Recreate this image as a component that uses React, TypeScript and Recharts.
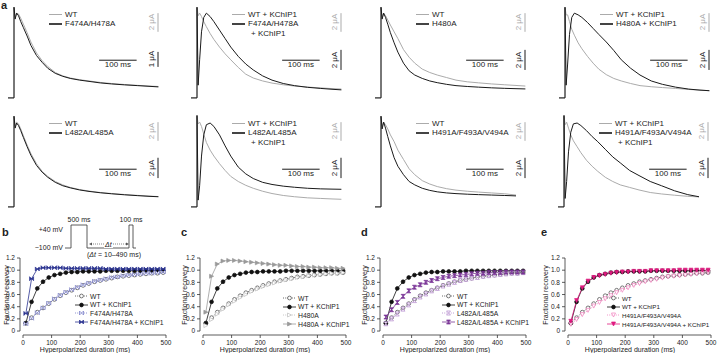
import React from "react";
import { LineChart, Line, XAxis, YAxis, ReferenceLine } from "recharts";

const FONT = '"Liberation Sans", Arial, Helvetica, sans-serif';
const GRAY = "#ababab";
const BLACK = "#1a1a1a";
const INK = "#222";

// ---------- a: current traces, normalised to peak ----------
const traceTime = [-16, 0, 0, 3, 7, 12, 18, 25, 35, 45, 60, 75, 90, 110, 130, 150, 175, 200, 230, 260, 295, 330, 360, 385];

const wtA1 = [0, 0, 1.07, 0.95, 1.0, 0.99, 0.94, 0.87, 0.77, 0.66, 0.53, 0.44, 0.37, 0.3, 0.26, 0.235, 0.215, 0.2, 0.183, 0.17, 0.158, 0.148, 0.14, 0.135];
const f474A = [0, 0, 1.07, 0.93, 1.0, 0.97, 0.9, 0.83, 0.73, 0.62, 0.5, 0.42, 0.35, 0.29, 0.255, 0.23, 0.21, 0.195, 0.177, 0.165, 0.154, 0.145, 0.137, 0.13];
const wtKA2 = [0, 0, 1.07, 0.97, 1.0, 0.96, 0.9, 0.84, 0.76, 0.69, 0.6, 0.52, 0.45, 0.36, 0.28, 0.235, 0.2, 0.175, 0.155, 0.14, 0.128, 0.118, 0.11, 0.105];
const f474KA = [0, 0, 1.07, 0.15, 0.45, 0.78, 0.95, 1.0, 0.96, 0.9, 0.8, 0.7, 0.6, 0.49, 0.4, 0.33, 0.26, 0.21, 0.17, 0.145, 0.125, 0.112, 0.102, 0.095];
const wtA3 = [0, 0, 1.07, 0.95, 1.0, 0.97, 0.92, 0.86, 0.78, 0.7, 0.57, 0.48, 0.41, 0.34, 0.3, 0.27, 0.24, 0.21, 0.19, 0.178, 0.165, 0.155, 0.147, 0.14];
const h480A = [0, 0, 1.07, 0.93, 1.0, 0.95, 0.87, 0.77, 0.65, 0.54, 0.41, 0.32, 0.27, 0.23, 0.2, 0.18, 0.16, 0.145, 0.135, 0.127, 0.119, 0.113, 0.109, 0.106];
const wtKA4 = [0, 0, 1.07, 0.98, 0.98, 0.9, 0.81, 0.74, 0.65, 0.58, 0.49, 0.41, 0.34, 0.275, 0.23, 0.2, 0.17, 0.145, 0.132, 0.122, 0.112, 0.1, 0.092, 0.085];
const h480KA = [0, 0, 1.07, 0.15, 0.4, 0.75, 0.95, 1.0, 0.98, 0.95, 0.89, 0.82, 0.75, 0.66, 0.56, 0.45, 0.35, 0.27, 0.2, 0.16, 0.127, 0.104, 0.092, 0.085];
const wtA5 = [0, 0, 1.07, 0.95, 1.0, 0.98, 0.92, 0.84, 0.73, 0.63, 0.51, 0.42, 0.36, 0.3, 0.26, 0.23, 0.205, 0.187, 0.17, 0.158, 0.146, 0.136, 0.128, 0.122];
const l482A = [0, 0, 1.07, 0.93, 0.99, 0.96, 0.9, 0.82, 0.71, 0.61, 0.49, 0.41, 0.35, 0.29, 0.25, 0.225, 0.2, 0.183, 0.167, 0.155, 0.143, 0.133, 0.125, 0.12];
const wtKA6 = [0, 0, 1.07, 0.98, 1.0, 0.95, 0.86, 0.76, 0.67, 0.6, 0.51, 0.43, 0.36, 0.3, 0.255, 0.22, 0.185, 0.158, 0.135, 0.12, 0.107, 0.1, 0.094, 0.09];
const l482KA = [0, 0, 1.08, 0.08, 0.25, 0.6, 0.85, 0.97, 0.99, 0.95, 0.85, 0.72, 0.6, 0.47, 0.39, 0.335, 0.29, 0.265, 0.245, 0.232, 0.22, 0.213, 0.21, 0.208];
const wtA7 = [0, 0, 1.07, 0.95, 1.0, 0.97, 0.92, 0.85, 0.77, 0.67, 0.56, 0.45, 0.38, 0.31, 0.27, 0.24, 0.215, 0.198, 0.185, 0.175, 0.165, 0.155, 0.14, null];
const h491A = [0, 0, 1.07, 0.92, 1.0, 0.93, 0.83, 0.72, 0.58, 0.48, 0.38, 0.3, 0.26, 0.22, 0.195, 0.178, 0.165, 0.157, 0.15, 0.145, 0.14, 0.135, 0.13, null];
const wtKA8 = [0, 0, 1.07, 0.97, 1.0, 0.93, 0.85, 0.78, 0.71, 0.64, 0.55, 0.48, 0.42, 0.35, 0.3, 0.26, 0.23, 0.2, 0.17, 0.153, 0.138, 0.125, 0.118, null];
const h491KA = [0, 0, 1.08, 0.1, 0.3, 0.65, 0.88, 0.98, 0.99, 0.96, 0.9, 0.83, 0.77, 0.68, 0.59, 0.52, 0.43, 0.37, 0.3, 0.25, 0.19, 0.145, 0.12, null];

// ---------- b-e: fractional recovery ----------
const recX = [10, 30, 50, 70, 90, 110, 130, 150, 170, 190, 210, 230, 250, 270, 290, 310, 330, 350, 370, 390, 410, 430, 450, 470, 490];
const wtRec = [0.13, 0.22, 0.31, 0.38, 0.45, 0.52, 0.58, 0.63, 0.67, 0.71, 0.75, 0.78, 0.81, 0.83, 0.85, 0.87, 0.89, 0.9, 0.91, 0.92, 0.93, 0.94, 0.95, 0.95, 0.96];
const wtKRec = [0.13, 0.48, 0.7, 0.81, 0.88, 0.92, 0.94, 0.96, 0.97, 0.97, 0.98, 0.98, 0.98, 0.98, 0.99, 0.99, 0.99, 0.99, 0.99, 0.99, 0.99, 0.99, 0.99, 0.99, 0.99];
const f474Rec = [0.12, 0.21, 0.3, 0.38, 0.46, 0.53, 0.59, 0.64, 0.68, 0.72, 0.76, 0.79, 0.82, 0.84, 0.86, 0.88, 0.89, 0.91, 0.92, 0.93, 0.94, 0.95, 0.95, 0.96, 0.97];
const f474KRec = [0.29, 0.86, 1.02, 1.04, 1.04, 1.04, 1.04, 1.03, 1.03, 1.03, 1.03, 1.03, 1.03, 1.03, 1.02, 1.02, 1.02, 1.02, 1.02, 1.02, 1.02, 1.02, 1.02, 1.02, 1.02];
const h480Rec = [0.09, 0.19, 0.28, 0.36, 0.43, 0.49, 0.55, 0.6, 0.65, 0.69, 0.73, 0.76, 0.79, 0.82, 0.84, 0.86, 0.88, 0.89, 0.91, 0.92, 0.93, 0.94, 0.95, 0.95, 0.96];
const h480KRec = [0.31, 0.9, 1.1, 1.15, 1.16, 1.16, 1.15, 1.14, 1.13, 1.12, 1.11, 1.1, 1.09, 1.08, 1.08, 1.07, 1.06, 1.06, 1.05, 1.05, 1.04, 1.04, 1.04, 1.03, 1.03];
const l482Rec = [0.12, 0.2, 0.28, 0.36, 0.43, 0.5, 0.56, 0.61, 0.66, 0.7, 0.74, 0.77, 0.8, 0.83, 0.85, 0.87, 0.88, 0.9, 0.91, 0.92, 0.93, 0.94, 0.95, 0.95, 0.96];
const l482KRec = [0.23, 0.35, 0.47, 0.57, 0.66, 0.72, 0.76, 0.8, 0.83, 0.86, 0.88, 0.9, 0.91, 0.92, 0.93, 0.94, 0.95, 0.95, 0.96, 0.96, 0.96, 0.97, 0.97, 0.97, 0.97];
const h491Rec = [0.11, 0.19, 0.27, 0.34, 0.41, 0.47, 0.53, 0.58, 0.63, 0.67, 0.71, 0.75, 0.78, 0.81, 0.83, 0.85, 0.87, 0.89, 0.9, 0.91, 0.92, 0.93, 0.94, 0.95, 0.96];
const h491KRec = [0.16, 0.5, 0.71, 0.82, 0.88, 0.91, 0.93, 0.95, 0.96, 0.97, 0.97, 0.98, 0.98, 0.98, 0.99, 0.99, 0.99, 0.99, 0.99, 1.0, 1.0, 1.0, 1.0, 1.0, 1.0];

const recYTicks = [0, 0.2, 0.4, 0.6, 0.8, 1.0, 1.2];
const recXTicks = [0, 100, 200, 300, 400, 500];

// pulse protocol (schematic units)
const protoX = [0, 6, 6, 22, 22, 64, 64, 68, 68, 71];
const protoMv = [-100, -100, 40, 40, -100, -100, 40, 40, -100, -100];

// ---------- trace panel ----------
const TW = 180;
const TH = 100;
const T_MIN = -16;
const T_MAX = 464;
const V_MIN = -0.06;
const V_MAX = 1.12;
const tx = (t: number) => ((t - T_MIN) / (T_MAX - T_MIN)) * TW;
const vy = (v: number) => ((V_MAX - v) / (V_MAX - V_MIN)) * TH;
const BAR_T = 384;

function RotText({ x, y, color, children }: any) {
  return (
    <div
      style={{
        position: "absolute",
        left: x,
        top: y,
        transform: "translate(-50%, -50%) rotate(-90deg)",
        fontSize: 8,
        color,
        whiteSpace: "nowrap",
        lineHeight: 1,
      }}
    >
      {children}
    </div>
  );
}

function TracePanel({ left, top, gray, black, grayLabel, blackLabel, blackScale, blackBar }: any) {
  const data = traceTime.map((t, i) => ({ t, g: gray[i], k: black[i] }));
  return (
    <div style={{ position: "absolute", left, top, width: TW, height: TH }}>
      <LineChart width={TW} height={TH} data={data} margin={{ top: 0, right: 0, bottom: 0, left: 0 }}>
        <XAxis dataKey="t" type="number" domain={[T_MIN, T_MAX]} hide />
        <YAxis type="number" domain={[V_MIN, V_MAX]} hide />
        <Line dataKey="g" type="linear" stroke={GRAY} strokeWidth={1} dot={false} isAnimationActive={false} />
        <Line dataKey="k" type="linear" stroke={BLACK} strokeWidth={1} dot={false} isAnimationActive={false} />
        <ReferenceLine ifOverflow="visible" segment={[{ x: BAR_T, y: 0.78 }, { x: BAR_T, y: 1.0 }]} stroke={GRAY} strokeWidth={1} />
        <ReferenceLine ifOverflow="visible" segment={[{ x: BAR_T, y: blackBar[0] }, { x: BAR_T, y: blackBar[1] }]} stroke={BLACK} strokeWidth={1} />
        <ReferenceLine ifOverflow="visible" segment={[{ x: 227, y: 0.445 }, { x: 327, y: 0.445 }]} stroke={BLACK} strokeWidth={1} />
      </LineChart>
      <RotText x={tx(BAR_T) - 6} y={vy(0.89)} color={GRAY}>2 μA</RotText>
      <RotText x={tx(BAR_T) - 6} y={(vy(blackBar[0]) + vy(blackBar[1])) / 2} color={INK}>{blackScale}</RotText>
      <div style={{ position: "absolute", left: tx(277) - 20, width: 40, textAlign: "center", top: vy(0.445) + 1, fontSize: 8, lineHeight: 1.1 }}>
        100 ms
      </div>
      <div style={{ position: "absolute", left: 41, top: 11, width: 13, height: 1, background: GRAY, marginTop: -0.5 }} />
      <div style={{ position: "absolute", left: 41, top: 21, width: 13, height: 2, background: "#444", marginTop: -1 }} />
      <div style={{ position: "absolute", left: 57, top: 6.5, fontSize: 8, lineHeight: "9.5px", whiteSpace: "nowrap" }}>
        <div>{grayLabel}</div>
        {blackLabel.map((s: string, i: number) => (
          <div key={i} style={{ paddingLeft: i > 0 ? 3 : 0 }}>{s}</div>
        ))}
      </div>
    </div>
  );
}

// ---------- recovery panel ----------
function Marker({ cx, cy, shape, color, open, r = 2.0 }: any) {
  if (cx == null || cy == null) return null;
  const fill = open ? "#fff" : color;
  const sw = 0.7;
  if (shape === "circle") return <circle cx={cx} cy={cy} r={r - 0.1} fill={fill} stroke={color} strokeWidth={sw} />;
  let d = "";
  if (shape === "bowtie") d = `M${cx - r} ${cy - r}L${cx + r} ${cy + r}L${cx + r} ${cy - r}L${cx - r} ${cy + r}Z`;
  if (shape === "hourglass") d = `M${cx - r} ${cy - r}L${cx + r} ${cy - r}L${cx - r} ${cy + r}L${cx + r} ${cy + r}Z`;
  if (shape === "triR") d = `M${cx - r} ${cy - r}L${cx + r} ${cy}L${cx - r} ${cy + r}Z`;
  if (shape === "triD") d = `M${cx - r} ${cy - r}L${cx + r} ${cy - r}L${cx} ${cy + r}Z`;
  return <path d={d} fill={fill} stroke={color} strokeWidth={sw} strokeLinejoin="round" />;
}

const REC_W = 175;
const REC_H = 98;
const X_MIN = -10.5;
const Y_MIN = -0.065;

function RecoveryPanel({ left, series, legendX, legendY, titleX, legendFont = 6.8 }: any) {
  const data = recX.map((x, i) => {
    const row: any = { x };
    series.forEach((s: any, j: number) => (row["s" + j] = s.values[i]));
    return row;
  });
  const x0 = left + 23;
  return (
    <>
      <div style={{ position: "absolute", left, top: 253 }}>
        <LineChart width={REC_W} height={REC_H} data={data} margin={{ top: 5, right: 9, bottom: 0, left: 0 }}>
          <XAxis
            dataKey="x"
            type="number"
            domain={[X_MIN, 500]}
            ticks={recXTicks}
            axisLine={false}
            tickSize={3}
            tickLine={{ stroke: "#333", strokeWidth: 0.8 }}
            tick={{ fontSize: 6.5, fill: INK, fontFamily: FONT }}
            height={16}
            interval={0}
          />
          <YAxis
            type="number"
            domain={[Y_MIN, 1.2]}
            ticks={recYTicks}
            width={20}
            axisLine={false}
            tickSize={3}
            tickLine={{ stroke: "#333", strokeWidth: 0.8 }}
            tick={{ fontSize: 6.5, fill: INK, fontFamily: FONT }}
            tickFormatter={(v: number) => (v === 0 ? "0" : v.toFixed(1))}
            interval={0}
          />
          <ReferenceLine ifOverflow="visible" segment={[{ x: X_MIN, y: 0 }, { x: X_MIN, y: 1.2 }]} stroke="#333" strokeWidth={0.8} />
          <ReferenceLine ifOverflow="visible" segment={[{ x: 0, y: Y_MIN }, { x: 500, y: Y_MIN }]} stroke="#333" strokeWidth={0.8} />
          {series.map((s: any, j: number) => (
            <Line
              key={j}
              dataKey={"s" + j}
              type="linear"
              stroke={s.color}
              strokeWidth={0.8}
              strokeDasharray={s.open ? "1 1.2" : undefined}
              isAnimationActive={false}
              dot={(p: any) => <Marker key={p.index} cx={p.cx} cy={p.cy} shape={s.shape} color={s.color} open={s.open} />}
            />
          ))}
        </LineChart>
      </div>
      <div
        style={{
          position: "absolute",
          left: titleX,
          top: 295,
          transform: "translate(-50%, -50%) rotate(-90deg)",
          fontSize: 7,
          whiteSpace: "nowrap",
        }}
      >
        Fractional recovery
      </div>
      <div style={{ position: "absolute", left: x0 + 62 - 60, width: 120, textAlign: "center", top: 346, fontSize: 7, whiteSpace: "nowrap" }}>
        Hyperpolarized duration (ms)
      </div>
      {series.map((s: any, j: number) => (
        <div
          key={j}
          style={{
            position: "absolute",
            left: legendX,
            top: legendY + j * 8.7 - 4,
            height: 8,
            display: "flex",
            alignItems: "center",
            fontSize: legendFont,
            whiteSpace: "nowrap",
          }}
        >
          <svg width={13} height={8} style={{ overflow: "visible" }}>
            <line x1={0} y1={4} x2={13} y2={4} stroke={s.color} strokeWidth={0.8} strokeDasharray={s.open ? "1 1.2" : undefined} />
            <Marker cx={6.5} cy={4} shape={s.shape} color={s.color} open={s.open} />
          </svg>
          <span style={{ marginLeft: 2 }}>{s.label}</span>
        </div>
      ))}
    </>
  );
}

const wtSeries = { label: "WT", values: wtRec, color: "#444", shape: "circle", open: true };
const wtKSeries = { label: "WT + KChIP1", values: wtKRec, color: "#111", shape: "circle", open: false };

function Protocol() {
  const data = protoX.map((x, i) => ({ x, v: protoMv[i] }));
  const lbl: any = { position: "absolute", fontSize: 7, whiteSpace: "nowrap", lineHeight: 1 };
  return (
    <>
      <div style={{ position: "absolute", left: 65, top: 224 }}>
        <LineChart width={71} height={25} data={data} margin={{ top: 1, right: 0, bottom: 1, left: 0 }}>
          <XAxis dataKey="x" type="number" domain={[0, 71]} hide />
          <YAxis type="number" domain={[-100, 40]} hide />
          <Line dataKey="v" type="linear" stroke="#333" strokeWidth={0.8} dot={false} isAnimationActive={false} />
        </LineChart>
      </div>
      <div style={{ ...lbl, left: 13, width: 50, textAlign: "right", top: 226 }}>+40 mV</div>
      <div style={{ ...lbl, left: 13, width: 50, textAlign: "right", top: 244 }}>−100 mV</div>
      <div style={{ ...lbl, left: 64, width: 30, textAlign: "center", top: 216 }}>500 ms</div>
      <div style={{ ...lbl, left: 116, width: 30, textAlign: "center", top: 216 }}>100 ms</div>
      <svg style={{ position: "absolute", left: 88, top: 240 }} width={42} height={8}>
        <line x1={3} y1={4} x2={39} y2={4} stroke="#555" strokeWidth={0.7} strokeDasharray="1 1" />
        <path d="M1 4L4 2.5L4 5.5Z" fill="#555" />
        <path d="M41 4L38 2.5L38 5.5Z" fill="#555" />
      </svg>
      <div style={{ ...lbl, left: 104, top: 240.5, background: "#fff", padding: "0 1px", fontStyle: "italic" }}>Δt</div>
      <div style={{ ...lbl, left: 84, width: 60, textAlign: "center", top: 251 }}>
        (<i>Δt</i> = 10–490 ms)
      </div>
    </>
  );
}

export default function App() {
  const letter: any = { position: "absolute", fontWeight: "bold", fontSize: 11, lineHeight: 1 };
  return (
    <div
      style={{
        position: "absolute",
        left: 0,
        top: 0,
        width: 719,
        height: 353,
        background: "#fff",
        fontFamily: FONT,
        color: INK,
        overflow: "hidden",
      }}
    >
      <div style={{ ...letter, left: 1, top: 0 }}>a</div>

      <TracePanel left={8} top={3} gray={wtA1} black={f474A} grayLabel="WT" blackLabel={["F474A/H478A"]} blackScale="1 μA" blackBar={[0.366, 0.543]} />
      <TracePanel left={191} top={3} gray={wtKA2} black={f474KA} grayLabel="WT + KChIP1" blackLabel={["F474A/H478A", "+ KChIP1"]} blackScale="2 μA" blackBar={[0.33, 0.567]} />
      <TracePanel left={375} top={3} gray={wtA3} black={h480A} grayLabel="WT" blackLabel={["H480A"]} blackScale="2 μA" blackBar={[0.33, 0.567]} />
      <TracePanel left={559} top={3} gray={wtKA4} black={h480KA} grayLabel="WT + KChIP1" blackLabel={["H480A + KChIP1"]} blackScale="2 μA" blackBar={[0.33, 0.567]} />

      <TracePanel left={8} top={112} gray={wtA5} black={l482A} grayLabel="WT" blackLabel={["L482A/L485A"]} blackScale="2 μA" blackBar={[0.34, 0.58]} />
      <TracePanel left={191} top={112} gray={wtKA6} black={l482KA} grayLabel="WT + KChIP1" blackLabel={["L482A/L485A", "+ KChIP1"]} blackScale="2 μA" blackBar={[0.34, 0.58]} />
      <TracePanel left={375} top={112} gray={wtA7} black={h491A} grayLabel="WT" blackLabel={["H491A/F493A/V494A"]} blackScale="2 μA" blackBar={[0.34, 0.58]} />
      <TracePanel left={558} top={112} gray={wtKA8} black={h491KA} grayLabel="WT + KChIP1" blackLabel={["H491A/F493A/V494A", "+ KChIP1"]} blackScale="2 μA" blackBar={[0.34, 0.58]} />

      <div style={{ ...letter, left: 2, top: 227 }}>b</div>
      <div style={{ ...letter, left: 181, top: 227 }}>c</div>
      <div style={{ ...letter, left: 361, top: 227 }}>d</div>
      <div style={{ ...letter, left: 541, top: 227 }}>e</div>

      <Protocol />

      <RecoveryPanel
        left={0}
        titleX={6}
        legendX={75}
        legendY={296}
        series={[
          wtSeries,
          wtKSeries,
          { label: "F474A/H478A", values: f474Rec, color: "#7479c6", shape: "bowtie", open: true },
          { label: "F474A/H478A + KChIP1", values: f474KRec, color: "#2b3490", shape: "bowtie", open: false },
        ]}
      />
      <RecoveryPanel
        left={180}
        titleX={184}
        legendX={283}
        legendY={298}
        series={[
          wtSeries,
          wtKSeries,
          { label: "H480A", values: h480Rec, color: "#bdbdbd", shape: "triR", open: true },
          { label: "H480A + KChIP1", values: h480KRec, color: "#9a9a9a", shape: "triR", open: false },
        ]}
      />
      <RecoveryPanel
        left={360}
        titleX={364}
        legendX={442}
        legendY={296}
        series={[
          wtSeries,
          wtKSeries,
          { label: "L482A/L485A", values: l482Rec, color: "#b186cc", shape: "hourglass", open: true },
          { label: "L482A/L485A + KChIP1", values: l482KRec, color: "#7a3596", shape: "hourglass", open: false },
        ]}
      />
      <RecoveryPanel
        left={545}
        titleX={545}
        legendX={607}
        legendY={298}
        legendFont={6.2}
        series={[
          wtSeries,
          wtKSeries,
          { label: "H491A/F493A/V494A", values: h491Rec, color: "#f07cbc", shape: "triD", open: true },
          { label: "H491A/F493A/V494A + KChIP1", values: h491KRec, color: "#e0197f", shape: "triD", open: false },
        ]}
      />
    </div>
  );
}
